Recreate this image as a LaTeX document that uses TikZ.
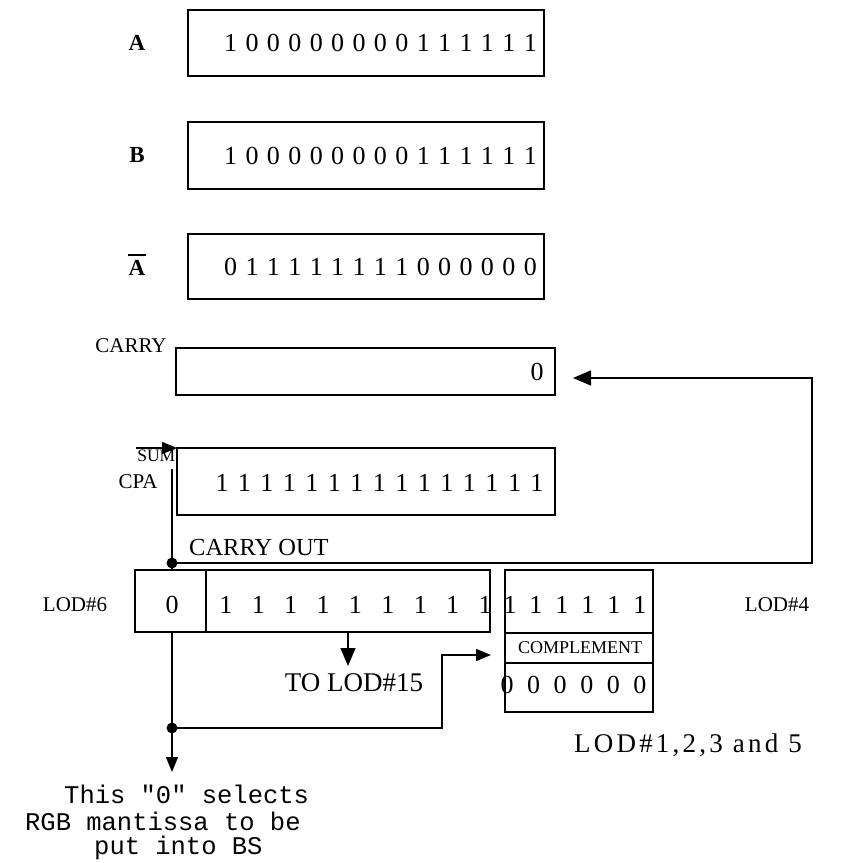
\documentclass[tikz,border=0pt]{standalone}
\usepackage{fontspec}
\setmainfont{Liberation Serif}
\newfontfamily\notefont{Liberation Mono}
\newfontfamily\widefont[LetterSpace=12]{Liberation Serif}
\usetikzlibrary{arrows.meta}
\newcommand\digs[2]{\def\digw{#1}\digloop#2\relax}
\def\digloop#1{\ifx#1\relax\else\makebox[\digw]{#1}\expandafter\digloop\fi}
\tikzset{
  reg/.style={draw, line width=1.5pt, inner sep=0pt, outer sep=0pt},
  lab/.style={font=\fontsize{21}{25}\selectfont, inner sep=0pt},
  blab/.style={font=\bfseries\fontsize{23}{27}\selectfont, inner sep=0pt},
  small/.style={font=\fontsize{18}{22}\selectfont, inner sep=0pt},
  bits/.style={font=\fontsize{26}{30}\selectfont, inner sep=0pt},
  note/.style={font=\notefont\fontsize{25.5}{28}\selectfont, inner sep=0pt, anchor=west},
  wire/.style={line width=1.4pt},
  bigarrow/.style={wire, -{Triangle[length=18pt,width=15pt]}},
  midarrow/.style={wire, -{Triangle[length=15pt,width=12pt]}},
  dot/.style={circle, fill, inner sep=0pt, minimum size=11pt},
}
\begin{document}
\begin{tikzpicture}[x=1pt,y=-1pt]
\useasboundingbox (0,0) rectangle (859,863);
% registers
\node[reg,minimum width=356pt,minimum height=66pt] (boxA) at (366,43) {};
\node[reg,minimum width=356pt,minimum height=67pt] (boxB) at (366,155.5) {};
\node[reg,minimum width=356pt,minimum height=65pt] (boxAb) at (366,266.5) {};
\node[reg,minimum width=379pt,minimum height=47pt] (boxC) at (365.5,371.5) {};
\node[reg,minimum width=378pt,minimum height=67pt] (boxS) at (366,481.5) {};
\node[reg,minimum width=71pt,minimum height=62pt] (lod6a) at (170.5,601) {};
\node[reg,minimum width=284pt,minimum height=62pt] (lod6b) at (348,601) {};
\node[reg,minimum width=148pt,minimum height=63pt] (lod4a) at (579,601.5) {};
\node[reg,minimum width=148pt,minimum height=30pt] (lod4b) at (579,648) {};
\node[reg,minimum width=148pt,minimum height=49pt] (lod4c) at (579,687.5) {};
% contents
\node[bits] (dA) at (380.5,43) {\digs{21.4pt}{100000000111111}};
\node[bits] (dB) at (380.5,155.5) {\digs{21.4pt}{100000000111111}};
\node[bits] (dAb) at (380.5,266.5) {\digs{21.4pt}{011111111000000}};
\node[bits] (dC) at (537,372) {0};
\node[bits] (dS) at (379.5,483) {\digs{22.5pt}{111111111111111}};
\node[bits] (d6a) at (172,605) {0};
\node[bits] (d6b) at (355.5,605) {\digs{32.4pt}{111111111}};
\node[bits] (d4a) at (575,605) {\digs{26pt}{111111}};
\node[small] (comp) at (580,648) {COMPLEMENT};
\node[bits] (d4c) at (573.5,685) {\digs{26.6pt}{000000}};
% labels
\node[blab] (lA) at (137,43) {A};
\node[blab] (lB) at (137,155) {B};
\node[blab] (lAb) at (137,268) {A};
\draw[line width=1.5pt] ([yshift=5pt]lAb.north west) -- ([yshift=5pt]lAb.north east);
\node[lab] (lC) at (131,346) {CARRY};
\node[lab] (lS) at (138,482) {CPA};
\node[lab] (l6) at (75,605) {LOD\#6};
\node[lab] (l4) at (777,605) {LOD\#4};
\node[font=\widefont\fontsize{27}{31}\selectfont, inner sep=0pt] (l1235) at (688,745) {LOD\#1,2,3 and 5};
\node[font=\fontsize{17.5}{21}\selectfont, inner sep=1.5pt, anchor=north east] (sum) at (177,448) {SUM};
\node[font=\fontsize{24.5}{28}\selectfont, inner sep=0pt, anchor=west] (cout) at (189,548) {CARRY OUT};
\node[font=\fontsize{27}{31}\selectfont, inner sep=0pt] (to15) at (354,683) {TO LOD\#15};
% note
\node[note] (n1) at (64,794) {This "0" selects};
\node[note] (n2) at (25,821) {RGB mantissa to be};
\node[note] (n3) at (94,848) {put into BS};
% junctions
\coordinate (j1) at (172,563);
\coordinate (j2) at (172,728);
\coordinate (cR) at (812,378);
\coordinate (cTip) at (573,378);
\coordinate (t15) at (348,666);
\coordinate (sc) at (442,655);
\coordinate (sTip) at (491,655);
\coordinate (nTip) at (172,772);
% connectors
\draw[midarrow] (sum.north west) -- (boxS.north west);
\draw[wire] ([yshift=-6pt]sum.south -| j1) -- (j1 |- lod6a.north);
\draw[bigarrow] (j1) -| (cR) -- (cTip);
\draw[bigarrow] (lod6b.south -| t15) -- (t15);
\draw[wire] (j1 |- lod6a.south) -- (j2);
\draw[midarrow] (j2) -| (sc) -- (sTip);
\draw[midarrow] (j2) -- (nTip);
\node[dot] (dot1) at (j1) {};
\node[dot] (dot2) at (j2) {};
\end{tikzpicture}
\end{document}
